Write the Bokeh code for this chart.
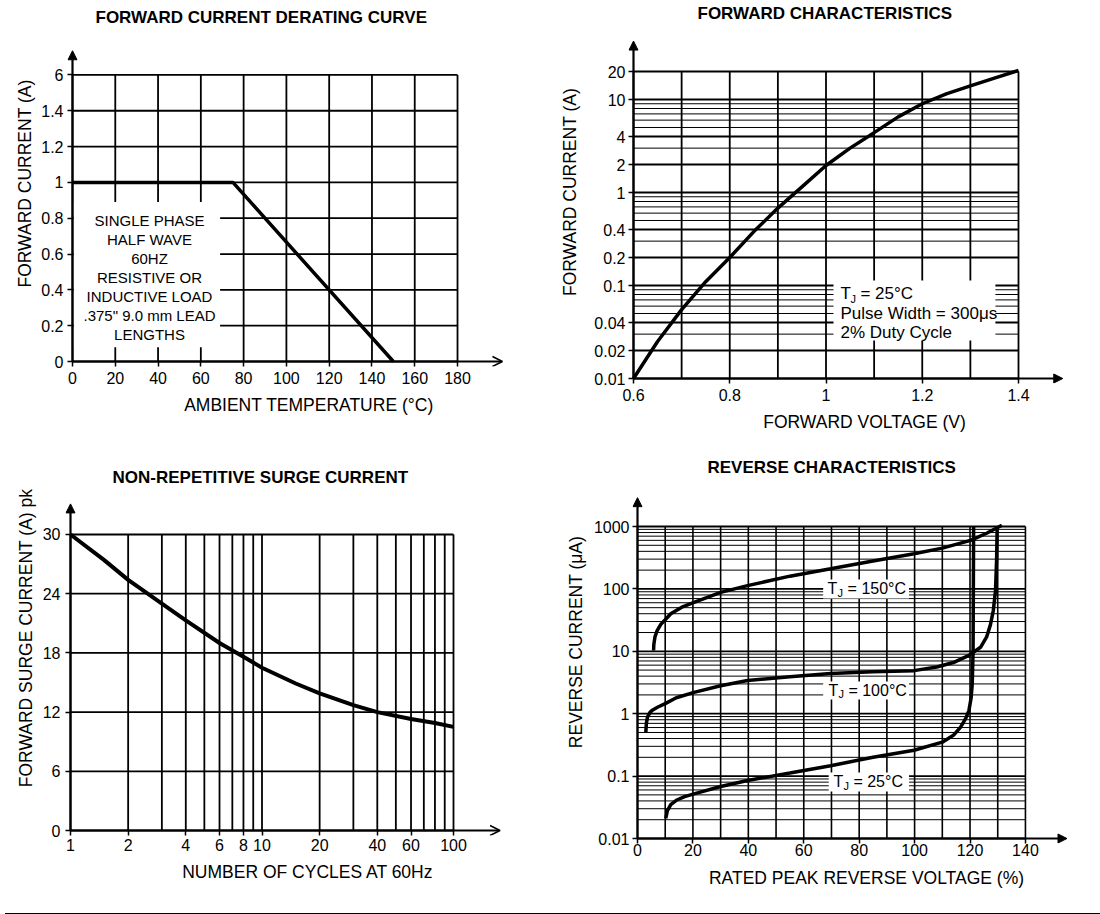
import math
from bokeh.plotting import figure
from bokeh.layouts import column, row
from bokeh.models import Range1d, FixedTicker, Arrow, NormalHead, OpenHead, Label, Div
from bokeh.core.properties import value
from bokeh.embed import file_html
from bokeh.resources import INLINE

FONT = "Liberation Sans"

# ---------------- data ----------------
# Panel 1: forward current derating curve
derate_temp = [0, 75, 150]
derate_current = [1.0, 1.0, 0.0]
derate_xticks = [0, 20, 40, 60, 80, 100, 120, 140, 160, 180]
derate_yticks = [0, 0.2, 0.4, 0.6, 0.8, 1.0, 1.2, 1.4, 1.6]
derate_ylabels = ["0", "0.2", "0.4", "0.6", "0.8", "1", "1.2", "1.4", "6"]
derate_note = ["SINGLE PHASE", "HALF WAVE", "60HZ", "RESISTIVE OR",
               "INDUCTIVE LOAD", ".375\" 9.0 mm LEAD", "LENGTHS"]

# Panel 2: forward characteristics
fwd_voltage = [0.6, 0.65, 0.7, 0.75, 0.8, 0.85, 0.9, 0.95, 1.0, 1.05, 1.1,
               1.15, 1.2, 1.25, 1.3, 1.35, 1.4]
fwd_current = [0.01, 0.025, 0.055, 0.11, 0.2, 0.38, 0.68, 1.15, 1.95, 3.0,
               4.4, 6.5, 9.0, 11.5, 14.0, 17.0, 20.5]
fwd_xticks = [0.6, 0.8, 1.0, 1.2, 1.4]
fwd_xlabels = ["0.6", "0.8", "1", "1.2", "1.4"]
fwd_yticks = [0.01, 0.02, 0.04, 0.1, 0.2, 0.4, 1, 2, 4, 10, 20]
fwd_ylabels = ["0.01", "0.02", "0.04", "0.1", "0.2", "0.4", "1", "2", "4", "10", "20"]
fwd_note = ["Pulse Width = 300\u03bcs", "2% Duty Cycle"]
fwd_tj = "= 25\u00b0C"

# Panel 3: non-repetitive surge current
surge_cycles = [1, 1.5, 2, 3, 4, 6, 8, 10, 15, 20, 30, 40, 60, 80, 100]
surge_current = [30, 27.4, 25.4, 23.0, 21.3, 19.0, 17.6, 16.5, 14.9, 13.9,
                 12.7, 12.0, 11.3, 10.9, 10.5]
surge_xticks = [1, 2, 4, 6, 8, 10, 20, 40, 60, 100]
surge_xlabels = ["1", "2", "4", "6", "8", "10", "20", "40", "60", "100"]
surge_yticks = [0, 6, 12, 18, 24, 30]

# Panel 4: reverse characteristics
rev_v_150 = [5.8, 5.9, 6.3, 7.0, 8.4, 10, 12, 16, 20.4, 30, 39.7, 55, 69.7,
             85, 99.8, 110, 120.2, 126, 131.5]
rev_i_150 = [10.3, 13, 17, 21, 27, 32, 40, 51, 61, 88, 113, 160, 210, 280,
             365, 450, 600, 780, 1050]
rev_v_100 = [3.0, 3.2, 3.6, 4.5, 5.5, 7.2, 10, 14, 20.4, 30, 39.7, 55, 69.7,
             85, 99.8, 108, 114, 119.6, 123.8, 126, 127.4, 128.4, 129.2,
             129.6, 129.8]
rev_i_100 = [0.5, 0.7, 0.88, 1.05, 1.15, 1.27, 1.45, 1.8, 2.2, 2.8, 3.4, 3.9,
             4.4, 4.7, 4.9, 5.6, 6.6, 8.6, 11.6, 17, 27, 45, 94, 300, 1000]
rev_v_25 = [10.2, 10.8, 12, 14, 17, 20.4, 30, 39.7, 55, 69.7, 85, 99.8, 110,
            114, 116.6, 118.5, 119.6, 120.4, 120.8, 121.1, 121.2, 121.3]
rev_i_25 = [0.021, 0.028, 0.035, 0.041, 0.047, 0.052, 0.068, 0.085, 0.112,
            0.147, 0.2, 0.26, 0.35, 0.45, 0.61, 0.85, 1.12, 1.8, 3.0, 10, 100,
            1000]
rev_xticks = [0, 20, 40, 60, 80, 100, 120, 140]
rev_yticks = [0.01, 0.1, 1, 10, 100, 1000]
rev_ylabels = ["0.01", "0.1", "1", "10", "100", "1000"]
rev_tj = ["= 150\u00b0C", "= 100\u00b0C", "= 25\u00b0C"]

# ---------------- styles / layout ----------------
TICK_SIZE = "16px"
LABEL_SIZE = "17.5px"
TITLE_SIZE = "17px"
PAD = 5  # frame edge lies this many px outside the drawn axis lines


def make_panel(canvas, axis_px, scale, origin, types):
    """canvas=(left, top, right, bottom) page px; axis_px=(x px of y axis,
    y px of x axis); scale=(px per unit/decade); origin=data value at axes."""
    cl, ct, cr, cb = canvas
    ax_x, ax_y = axis_px
    fl, fb = ax_x - PAD, ax_y + PAD
    ranges = []
    for (lo_px, hi_px, o, s, t) in ((-PAD, cr - ax_x, origin[0], scale[0], types[0]),
                                    (-PAD, ax_y - ct, origin[1], scale[1], types[1])):
        if t == "log":
            ranges.append((10 ** (math.log10(o) + lo_px / s), 10 ** (math.log10(o) + hi_px / s)))
        else:
            ranges.append((o + lo_px / s, o + hi_px / s))
    p = figure(frame_width=cr - fl, frame_height=fb - ct, min_border_left=fl - cl,
               min_border_right=0, min_border_top=0, min_border_bottom=cb - fb,
               x_range=Range1d(*ranges[0]), y_range=Range1d(*ranges[1]),
               x_axis_type=types[0], y_axis_type=types[1], output_backend="svg",
               toolbar_location=None, tools="")
    p.xgrid.visible = False
    p.ygrid.visible = False
    p.outline_line_color = None
    p.background_fill_color = "white"
    p.border_fill_color = "white"
    return p, (fl, fb)


def style_axis(ax, ticks, labels, text, standoff, lab_standoff):
    ax.ticker = FixedTicker(ticks=ticks)
    ax.major_label_overrides = {t: l for t, l in zip(ticks, labels)}
    ax.axis_label = text
    ax.axis_label_text_font = FONT
    ax.axis_label_text_font_size = LABEL_SIZE
    ax.axis_label_text_font_style = "normal"
    ax.axis_label_text_color = "black"
    ax.axis_label_standoff = lab_standoff
    ax.major_label_text_font = FONT
    ax.major_label_text_font_size = TICK_SIZE
    ax.major_label_text_color = "black"
    ax.major_label_standoff = standoff
    ax.axis_line_color = None
    ax.major_tick_in = PAD
    ax.major_tick_out = 0
    ax.major_tick_line_width = 1.5
    ax.major_tick_line_color = "black"
    ax.minor_tick_line_color = None


def add_title(p, fo, text, page_x, page_y):
    fl, fb = fo
    p.add_layout(Label(x=page_x - fl, y=fb - page_y, x_units="screen",
                       y_units="screen", text=text, text_font=FONT,
                       text_font_size=TITLE_SIZE, text_font_style="bold",
                       text_color="black", text_align="left",
                       text_baseline="middle"))


def grid(p, xs, ys, x0, x1, y0, y1, w=1.6):
    p.segment(x0=xs, y0=[y0] * len(xs), x1=xs, y1=[y1] * len(xs),
              line_color="black", line_width=w)
    p.segment(x0=[x0] * len(ys), y0=ys, x1=[x1] * len(ys), y1=ys,
              line_color="black", line_width=w)


def axes_arrows(p, x0, y0, x_tip, y_tip, head_x):
    hx = (OpenHead(size=10, line_width=1.5) if head_x == "open"
          else NormalHead(size=9, fill_color="black", line_color="black"))
    p.add_layout(Arrow(end=hx, x_start=x0, y_start=y0, x_end=x_tip, y_end=y0,
                       line_width=2.2, line_color="black"))
    p.add_layout(Arrow(end=NormalHead(size=9, fill_color="black", line_color="black"),
                       x_start=x0, y_start=y0, x_end=x0, y_end=y_tip,
                       line_width=2.2, line_color="black"))


def txt(p, x, y, t, size, align="left", xo=0, yo=0):
    p.text(x=x, y=y, text=t, text_font=value(FONT), text_font_size=size,
           text_align=align, text_baseline="middle", text_color="black",
           x_offset=xo, y_offset=yo)


# ---------------- panel 1 ----------------
p1, fo1 = make_panel((0, 0, 550, 440), (72, 361), (2.139, 179.1), (0, 0), ("linear", "linear"))
grid(p1, derate_xticks, derate_yticks, 0, 180, 0, 1.6, 1.8)
p1.quad(left=[0.6], right=[69], bottom=[0.08], top=[0.89], fill_color="white",
        line_color=None)
p1.line(derate_temp, derate_current, line_color="black", line_width=3.5)
note_y = [0.788 - 0.106 * i for i in range(len(derate_note))]
txt(p1, [36] * len(derate_note), note_y, derate_note, "15px", "center")
style_axis(p1.xaxis[0], derate_xticks, [str(t) for t in derate_xticks],
           "AMBIENT TEMPERATURE (\u00b0C)", 5, 8)
style_axis(p1.yaxis[0], derate_yticks, derate_ylabels,
           "FORWARD CURRENT (A)", 4, 3)
axes_arrows(p1, 0, 0, 201, 1.735, "open")
add_title(p1, fo1, "FORWARD CURRENT DERATING CURVE", 95, 17)

# ---------------- panel 2 ----------------
p2, fo2 = make_panel((550, 0, 1100, 440), (633, 378), (481.25, 93.0), (0.6, 0.01), ("linear", "log"))
fwd_vgrid = [0.6, 0.7, 0.8, 0.9, 1.0, 1.1, 1.2, 1.3, 1.4]
fwd_hminor = [m * 10.0 ** k for k in (-2, -1, 0) for m in (3, 5, 6, 7, 8, 9)]
grid(p2, fwd_vgrid, [], 0.6, 1.4, 0.01, 20, 1.8)
p2.segment(x0=[0.6] * len(fwd_hminor), y0=fwd_hminor, x1=[1.4] * len(fwd_hminor),
           y1=fwd_hminor, line_color="black", line_width=1)
p2.segment(x0=[0.6] * len(fwd_yticks), y0=fwd_yticks, x1=[1.4] * len(fwd_yticks),
           y1=fwd_yticks, line_color="black", line_width=1.8)
p2.quad(left=[1.0156], right=[1.352], bottom=[0.0257], top=[0.113],
        fill_color="white", line_color=None)
p2.line(fwd_voltage, fwd_current, line_color="black", line_width=3.5)
txt(p2, [1.03], [0.082], ["T"], "17px")
txt(p2, [1.03], [0.082], ["J"], "11px", xo=10, yo=5)
txt(p2, [1.03], [0.082], [fwd_tj], "17px", xo=20)
txt(p2, [1.03, 1.03], [0.050, 0.0313], fwd_note, "17px")
style_axis(p2.xaxis[0], fwd_xticks, fwd_xlabels, "FORWARD VOLTAGE (V)", 5, 8)
style_axis(p2.yaxis[0], fwd_yticks, fwd_ylabels, "FORWARD CURRENT (A)", 3, 11)
axes_arrows(p2, 0.6, 0.01, 1.492, 42.5, "fill")
add_title(p2, fo2, "FORWARD CHARACTERISTICS", 697, 13)

# ---------------- panel 3 ----------------
p3, fo3 = make_panel((0, 440, 550, 908), (70, 830), (191.5, 9.867), (1, 0), ("log", "linear"))
surge_vgrid = [1, 2, 3, 4, 5, 6, 7, 8, 9, 10, 20, 30, 40, 50, 60, 70, 80, 90, 100]
grid(p3, surge_vgrid, surge_yticks, 1, 100, 0, 30, 1.8)
p3.line(surge_cycles, surge_current, line_color="black", line_width=4)
style_axis(p3.xaxis[0], surge_xticks, surge_xlabels,
           "NUMBER OF CYCLES AT 60Hz", 3, 8)
style_axis(p3.yaxis[0], surge_yticks, [str(t) for t in surge_yticks],
           "FORWARD SURGE CURRENT (A) pk", 5, 4)
axes_arrows(p3, 1, 0, 175, 33.1, "open")
add_title(p3, fo3, "NON-REPETITIVE SURGE CURRENT", 112, 477)

# ---------------- panel 4 ----------------
p4, fo4 = make_panel((550, 440, 1100, 908), (637, 838), (2.771, 62.4), (0, 0.01), ("linear", "log"))
rev_vgrid = list(range(0, 150, 10))
rev_hminor = [m * 10.0 ** k for k in (-2, -1, 0, 1, 2) for m in range(2, 10)]
grid(p4, rev_vgrid, [], 0, 140, 0.01, 1000, 1.6)
p4.segment(x0=[0] * len(rev_hminor), y0=rev_hminor, x1=[140] * len(rev_hminor),
           y1=rev_hminor, line_color="black", line_width=1)
p4.segment(x0=[0] * len(rev_yticks), y0=rev_yticks, x1=[140] * len(rev_yticks),
           y1=rev_yticks, line_color="black", line_width=1.8)
box_l = [67, 67, 69]
box_r = [98, 98, 98]
box_b = [70, 1.69, 0.0566]
box_t = [141, 3.28, 0.114]
p4.quad(left=box_l, right=box_r, bottom=box_b, top=box_t, fill_color="white",
        line_color=None)
for xv, yv in ((rev_v_150, rev_i_150), (rev_v_100, rev_i_100), (rev_v_25, rev_i_25)):
    p4.line(xv, yv, line_color="black", line_width=3.5)
lab_x = [68.6, 68.9, 70.7]
lab_y = [101, 2.36, 0.0818]
txt(p4, lab_x, lab_y, ["T"] * 3, "16px")
txt(p4, lab_x, lab_y, ["J"] * 3, "11px", xo=10, yo=4)
txt(p4, lab_x, lab_y, rev_tj, "16px", xo=20)
style_axis(p4.xaxis[0], rev_xticks, [str(t) for t in rev_xticks],
           "RATED PEAK REVERSE VOLTAGE (%)", 0, 9)
style_axis(p4.yaxis[0], rev_yticks, rev_ylabels,
           "REVERSE CURRENT (\u03bcA)", 3, 5)
axes_arrows(p4, 0, 0.01, 155, 2900, "fill")
add_title(p4, fo4, "REVERSE CHARACTERISTICS", 707, 467)

# ---------------- bottom rule ----------------
rule = Div(text="", width=1100, height=3,
           styles={"background-color": "black", "width": "1100px", "height": "3px"})

layout = column(row(p1, p2), row(p3, p4), rule)
open("out.html", "w").write(file_html(layout, INLINE))
